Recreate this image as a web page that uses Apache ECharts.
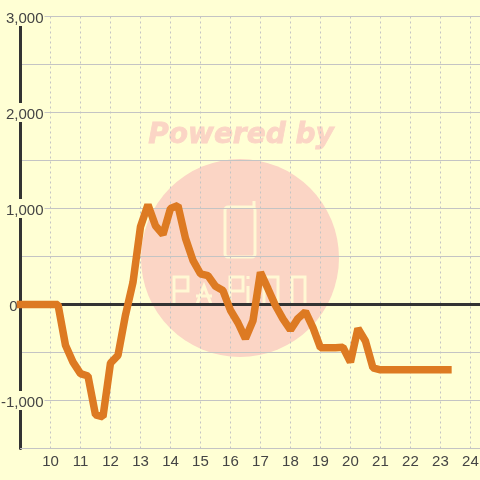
<!DOCTYPE html>
<html>
<head>
<meta charset="utf-8">
<style>
  html, body { margin: 0; padding: 0; background: #ffffd4; }
  #chart { width: 480px; height: 480px; }
</style>
<script src="https://cdn.jsdelivr.net/npm/echarts@6/dist/echarts.min.js"></script>
</head>
<body>
<div id="chart"></div>
<script>
const hours = [9, 9.25, 9.5, 9.75, 10, 10.25, 10.5, 10.75, 11, 11.25, 11.5, 11.75, 12, 12.25, 12.5, 12.75,
  13, 13.25, 13.5, 13.75, 14, 14.25, 14.5, 14.75, 15, 15.25, 15.5, 15.75, 16, 16.25, 16.5, 16.75,
  17, 17.25, 17.5, 17.75, 18, 18.25, 18.5, 18.75, 19, 19.25, 19.5, 19.75, 20, 20.25, 20.5, 20.75,
  21, 21.25, 21.5, 21.75, 22, 22.25, 22.5, 22.75, 23, 23.25];
const balance = [0, 0, 0, 0, 0, 0, -425, -600, -720, -745, -1150, -1170, -610, -530, -110, 230,
  810, 1040, 820, 730, 1000, 1030, 690, 460, 320, 300, 190, 145, -60, -190, -355, -170,
  335, 165, -10, -150, -265, -145, -75, -240, -450, -450, -450, -445, -600, -250, -380, -660,
  -680, -680, -680, -680, -680, -680, -680, -680, -680, -680];
const xMin = 9;
const xMax = 24.32;

const ink = "#333333";
const labelInk = "#444444";
const paper = "#ffffd4";
const lightGrid = "#c4c4c4";
const mark = "#fbd5c5";
const markLine = "#fff8d4";

// thin stroke pieces of the watermark logo
const stroke = (points) => ({
  type: "polyline", z: -1,
  shape: { points },
  style: { fill: null, stroke: markLine, lineWidth: 3 },
});

const chart = echarts.init(document.getElementById("chart"));
chart.setOption({
  animation: false,
  backgroundColor: paper,
  grid: { left: 20.5, right: 0, top: 16.5, bottom: 31.5, outerBoundsMode: "none" },
  graphic: [
    { type: "circle", z: -1, shape: { cx: 240, cy: 258, r: 99 }, style: { fill: mark } },
    {
      type: "text", z: -1, x: 241, y: 136,
      style: {
        text: "Powered by", fill: mark, stroke: mark, lineWidth: 0.8, align: "center", verticalAlign: "middle",
        font: "italic bold 28px 'DejaVu Sans'",
      },
    },
    {
      type: "rect", z: -1,
      shape: { x: 225, y: 207, width: 30, height: 50, r: 3 },
      style: { fill: null, stroke: markLine, lineWidth: 3 },
    },
    stroke([[254, 207], [254, 201]]),
    stroke([[174, 304], [174, 277], [188, 277], [188, 291], [175, 291]]),
    stroke([[197, 304], [204, 286], [211, 304]]),
    stroke([[196, 296], [212, 296]]),
    stroke([[230, 304], [230, 277], [243, 277], [243, 291], [231, 291]]),
    stroke([[248, 304], [248, 286]]),
    stroke([[248, 276], [248, 279]]),
    stroke([[264, 304], [264, 277], [278, 277], [278, 304]]),
    stroke([[292, 304], [292, 277], [305, 277], [305, 304]]),
  ],
  xAxis: [
    {
      type: "value", min: xMin, max: xMax, interval: 1,
      axisLine: { onZero: false, lineStyle: { color: lightGrid, width: 1 } },
      axisTick: { show: false },
      axisLabel: { showMinLabel: false, showMaxLabel: false, hideOverlap: false, color: labelInk, fontSize: 15, fontFamily: "Liberation Sans", margin: 6 },
      splitLine: { show: true, lineStyle: { color: lightGrid, type: [2, 3], width: 1 } },
    },
    {
      type: "value", min: xMin, max: xMax, interval: 1, position: "bottom",
      axisLine: { onZero: true, lineStyle: { color: ink, width: 3 } },
      axisTick: { show: false },
      axisLabel: { show: false },
      splitLine: { show: false },
    },
  ],
  yAxis: {
    type: "value", min: -1500, max: 3000, interval: 500,
    axisLine: { show: true, onZero: false, lineStyle: { color: ink, width: 3 } },
    axisTick: { show: false },
    axisLabel: {
      color: labelInk, fontSize: 15, fontFamily: "Liberation Sans", margin: -24,
      showMinLabel: false,
      // the zero label sits left of the axis, the others cover it
      formatter: (v) => {
        if (v === 0) return "{zero|0}";
        return v % 1000 === 0 ? `{num|${v.toLocaleString("en-US")}}` : "";
      },
      rich: {
        num: { backgroundColor: paper, padding: [4, 1, 0, 1], color: labelInk, fontSize: 15, fontFamily: "Liberation Sans" },
        zero: { padding: [4, 27, 0, 0], color: labelInk, fontSize: 15, fontFamily: "Liberation Sans" },
      },
    },
    splitLine: { show: true, lineStyle: { color: lightGrid, width: 1 } },
  },
  series: [
    {
      type: "line",
      data: hours.map((h, i) => [h, balance[i]]),
      showSymbol: false,
      clip: false,
      lineStyle: { color: "#dd7a22", width: 7.5, cap: "square", join: "bevel" },
    },
  ],
});
</script>
</body>
</html>
